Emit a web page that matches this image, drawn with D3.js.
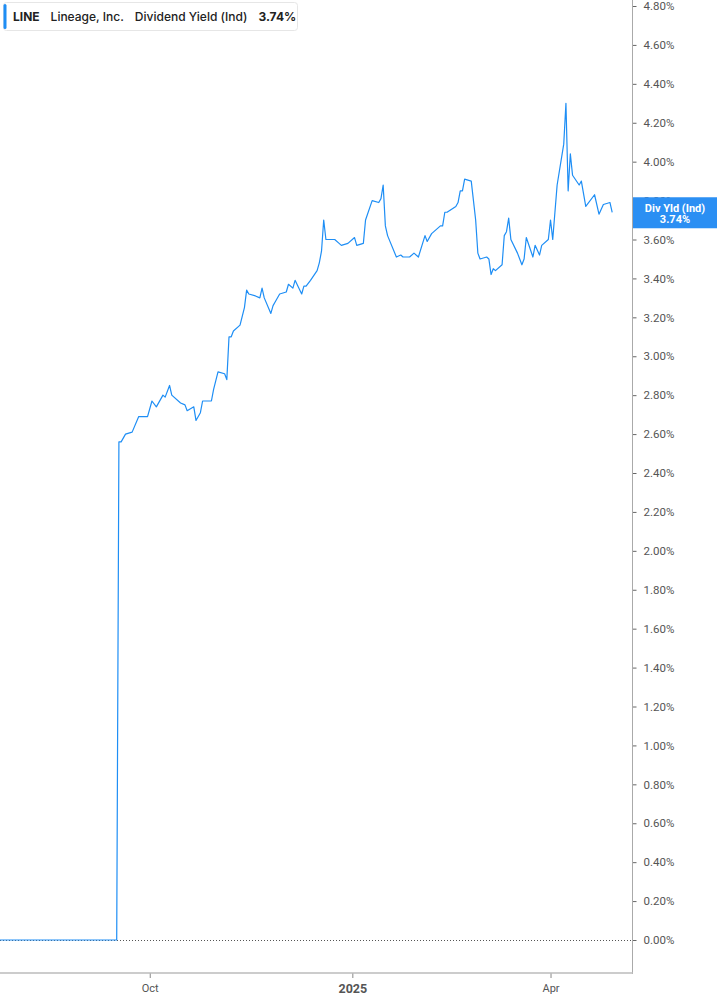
<!DOCTYPE html>
<html>
<head>
<meta charset="utf-8">
<script src="https://cdn.jsdelivr.net/npm/d3@7"></script>
<style>
  body { margin: 0; background: #fff; }
  svg { display: block; }
</style>
</head>
<body>
<div id="chart"></div>
<script>
// ---------- data
const ticker = "LINE"
const companyName = "Lineage, Inc."
const metricName = "Dividend Yield (Ind)"
const lastLabel = "3.74%"
const tagLines = ["Div Yld (Ind)", "3.74%"]

const dates = [
  "2024-07-25","2024-09-16","2024-09-17","2024-09-18","2024-09-20","2024-09-23","2024-09-26","2024-09-30",
  "2024-10-02","2024-10-04","2024-10-07","2024-10-08","2024-10-10","2024-10-11","2024-10-15","2024-10-17",
  "2024-10-18","2024-10-21","2024-10-22","2024-10-24","2024-10-25","2024-10-29","2024-10-30","2024-11-01",
  "2024-11-04","2024-11-05","2024-11-06","2024-11-07","2024-11-08","2024-11-11","2024-11-13","2024-11-14",
  "2024-11-15","2024-11-18","2024-11-20","2024-11-21","2024-11-22","2024-11-25","2024-11-26","2024-11-27",
  "2024-11-29","2024-12-02","2024-12-03","2024-12-05","2024-12-06","2024-12-09","2024-12-10","2024-12-11",
  "2024-12-13","2024-12-16","2024-12-17","2024-12-18","2024-12-19","2024-12-20","2024-12-24","2024-12-26",
  "2024-12-27","2024-12-30","2025-01-02","2025-01-03","2025-01-06","2025-01-07","2025-01-10","2025-01-13",
  "2025-01-14","2025-01-15","2025-01-16","2025-01-17","2025-01-21","2025-01-23","2025-01-24","2025-01-27",
  "2025-01-29","2025-01-31","2025-02-03","2025-02-04","2025-02-06","2025-02-10","2025-02-11","2025-02-12",
  "2025-02-13","2025-02-17","2025-02-18","2025-02-19","2025-02-20","2025-02-21","2025-02-24","2025-02-26",
  "2025-02-27","2025-02-28","2025-03-03","2025-03-04","2025-03-05","2025-03-06","2025-03-07","2025-03-10",
  "2025-03-11","2025-03-12","2025-03-13","2025-03-14","2025-03-17","2025-03-19","2025-03-20","2025-03-21",
  "2025-03-24","2025-03-25","2025-03-27","2025-03-28","2025-03-31","2025-04-01","2025-04-02","2025-04-04",
  "2025-04-07","2025-04-08","2025-04-09","2025-04-10","2025-04-11","2025-04-14","2025-04-15","2025-04-17",
  "2025-04-21","2025-04-23","2025-04-25","2025-04-28","2025-04-29"
]

const yields = [
  0, 0, 2.56, 2.56, 2.60, 2.61, 2.69, 2.69,
  2.77, 2.74, 2.80, 2.79, 2.85, 2.80, 2.76, 2.75,
  2.72, 2.74, 2.67, 2.71, 2.77, 2.77, 2.83, 2.92,
  2.91, 2.88, 3.10, 3.10, 3.13, 3.16, 3.25, 3.34,
  3.32, 3.31, 3.30, 3.35, 3.30, 3.22, 3.26, 3.28,
  3.32, 3.33, 3.37, 3.35, 3.39, 3.32, 3.36, 3.36,
  3.39, 3.44, 3.48, 3.54, 3.70, 3.60, 3.60, 3.58,
  3.57, 3.58, 3.61, 3.57, 3.58, 3.70, 3.80, 3.79,
  3.81, 3.88, 3.67, 3.62, 3.51, 3.52, 3.51, 3.51,
  3.53, 3.51, 3.62, 3.59, 3.63, 3.67, 3.67, 3.74,
  3.74, 3.77, 3.79, 3.85, 3.85, 3.91, 3.90, 3.70,
  3.53, 3.50, 3.51, 3.50, 3.42, 3.45, 3.44, 3.47,
  3.62, 3.64, 3.71, 3.60, 3.53, 3.47, 3.50, 3.61,
  3.51, 3.57, 3.52, 3.57, 3.60, 3.70, 3.60, 3.88,
  4.09, 4.30, 3.85, 4.04, 3.93, 3.88, 3.90, 3.77,
  3.83, 3.73, 3.78, 3.79, 3.74
]

const xDomain = ["2024-07-25", "2025-05-08"]
const xTickDates = ["2024-10-01", "2025-01-01", "2025-04-01"]
const xTickLabels = ["Oct", "2025", "Apr"]
const yDomain = [0, 4.8]
const yTickValues = d3.range(0, 4.81, 0.2)

// ---------- dimensions
const dims = {
    width: 717,
    height: 1005,
    plotRight: 632,
    plotTop: 6,
    zeroY: 940,
    axisY: 973
}

const lineColor = "#1e8ef5"
const tagColor = "#2b8ff3"

const parseDate = d3.timeParse("%Y-%m-%d")
const data = dates.map((d, i) => ({ date: parseDate(d), value: yields[i] }))

const dateAccessor = d => d.date
const valueAccessor = d => d.value

// ---------- scales
const xScale = d3.scaleTime()
    .domain(xDomain.map(parseDate))
    .range([0, dims.plotRight])

const yScale = d3.scaleLinear()
    .domain(yDomain)
    .range([dims.zeroY, dims.plotTop])

// ---------- wrapper
const svg = d3.select("#chart")
    .append("svg")
    .attr("width", dims.width)
    .attr("height", dims.height)

// zero reference line (dotted)
svg.append("line")
    .attr("x1", 0)
    .attr("x2", dims.plotRight)
    .attr("y1", yScale(0) + 0.5)
    .attr("y2", yScale(0) + 0.5)
    .attr("stroke", "#555")
    .attr("stroke-width", 1)
    .attr("stroke-dasharray", "1,2")

// ---------- right axis
const yAxisGen = d3.axisRight(yScale)
    .tickValues(yTickValues)
    .tickFormat(d => d.toFixed(2) + "%")
    .tickSize(4)
    .tickPadding(7)

const yAxis = svg.append("g")
    .attr("transform", `translate(${dims.plotRight + 0.5},0)`)
    .call(yAxisGen)

yAxis.select(".domain").remove()
yAxis.selectAll(".tick line").attr("stroke", "#666")
yAxis.selectAll(".tick text")
    .attr("fill", "#555")
    .style("font-family", "Roboto, 'Liberation Sans', sans-serif")
    .style("font-size", "11.5px")

svg.append("line")
    .attr("x1", dims.plotRight + 0.5)
    .attr("x2", dims.plotRight + 0.5)
    .attr("y1", 0)
    .attr("y2", dims.axisY + 1)
    .attr("stroke", "#aaa")
    .attr("stroke-width", 1)

// ---------- bottom axis
const xAxisGen = d3.axisBottom(xScale)
    .tickValues(xTickDates.map(parseDate))
    .tickFormat((d, i) => xTickLabels[i])
    .tickSize(5)
    .tickPadding(6)

const xAxis = svg.append("g")
    .attr("transform", `translate(0,${dims.axisY})`)
    .call(xAxisGen)

xAxis.select(".domain").remove()
xAxis.selectAll(".tick line").attr("stroke", "#888")
xAxis.selectAll(".tick text")
    .attr("fill", "#555")
    .style("font-family", "Roboto, 'Liberation Sans', sans-serif")
    .style("font-size", d => d.getMonth() === 0 ? "12.5px" : "11px")
    .style("font-weight", d => d.getMonth() === 0 ? "bold" : "normal")

svg.append("line")
    .attr("x1", 0)
    .attr("x2", dims.plotRight + 1)
    .attr("y1", dims.axisY)
    .attr("y2", dims.axisY)
    .attr("stroke", "#bbb")
    .attr("stroke-width", 1.6)

// ---------- line
const lineGenerator = d3.line()
    .x(d => xScale(dateAccessor(d)))
    .y(d => yScale(valueAccessor(d)))

svg.append("path")
    .datum(data)
    .attr("d", lineGenerator)
    .attr("fill", "none")
    .attr("stroke", lineColor)
    .attr("stroke-width", 1.2)
    .attr("stroke-linejoin", "round")

// ---------- current value tag
const lastPoint = data[data.length - 1]
const tagY = yScale(valueAccessor(lastPoint))
const tag = svg.append("g")
    .attr("transform", `translate(${dims.plotRight + 1},${tagY})`)

tag.append("rect")
    .attr("x", 0)
    .attr("y", -15)
    .attr("width", dims.width - dims.plotRight)
    .attr("height", 31)
    .attr("fill", tagColor)

tag.selectAll("text")
    .data(tagLines)
    .join("text")
    .attr("x", 42)
    .attr("y", (d, i) => i === 0 ? -0.5 : 11)
    .attr("text-anchor", "middle")
    .attr("fill", "#fff")
    .style("font-family", "Roboto, 'Liberation Sans', sans-serif")
    .style("font-size", "11px")
    .style("font-weight", "bold")
    .text(d => d)

// ---------- legend box
const legend = svg.append("g")
    .attr("transform", "translate(3,2)")

legend.append("rect")
    .attr("x", 0.5)
    .attr("y", 0.5)
    .attr("width", 294)
    .attr("height", 28)
    .attr("rx", 3)
    .attr("fill", "#fff")
    .attr("stroke", "#e6e6e6")

legend.append("rect")
    .attr("x", 0.5)
    .attr("y", 2)
    .attr("width", 3)
    .attr("height", 25)
    .attr("rx", 1.5)
    .attr("fill", lineColor)

const legendItems = [
    { text: ticker, weight: 700 },
    { text: companyName, weight: 500 },
    { text: metricName, weight: 500 },
    { text: lastLabel, weight: 700 }
]

const legendTexts = legend.selectAll(".item")
    .data(legendItems)
    .join("text")
    .attr("class", "item")
    .attr("y", 19)
    .attr("fill", "#222")
    .style("font-family", "Inter, 'Noto Sans', sans-serif")
    .style("font-size", "12px")
    .style("font-weight", d => d.weight)
    .text(d => d.text)

// lay the legend items out one after another
let cursor = 10
legendTexts.each(function () {
    d3.select(this).attr("x", cursor)
    cursor += this.getComputedTextLength() + 11
})
</script>
</body>
</html>
